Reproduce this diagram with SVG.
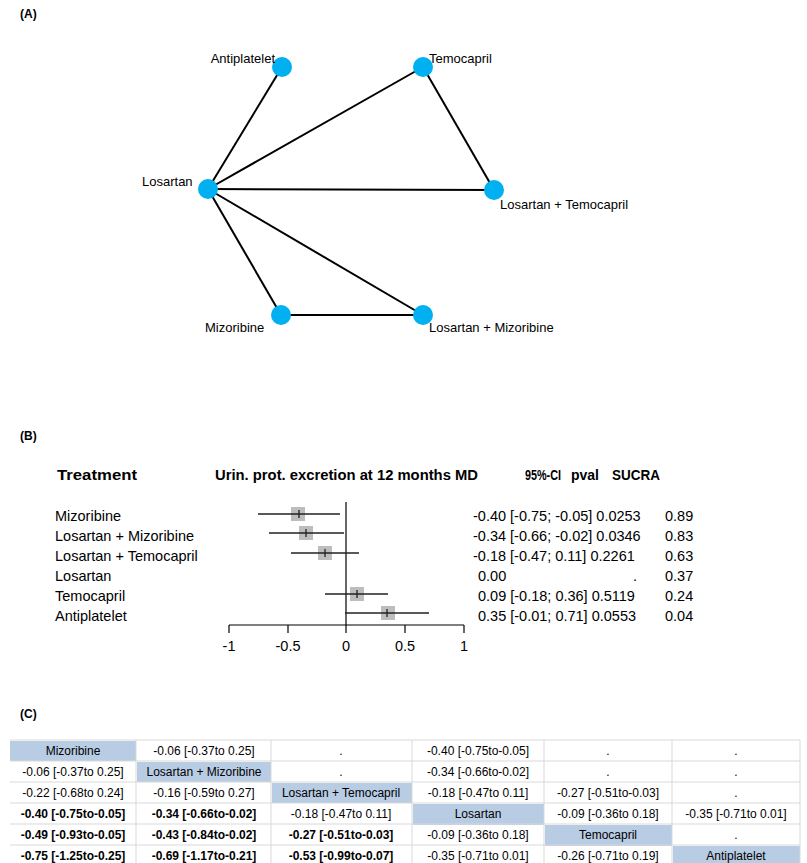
<svg xmlns="http://www.w3.org/2000/svg" width="807" height="863" viewBox="0 0 807 863">
<style>
text{font-family:"Liberation Sans",Arial,sans-serif;fill:#000}
.lb{font-size:13px}
.f{font-size:14.5px}
.h{font-size:14px;font-weight:bold}
.t{font-size:12px;text-anchor:middle}
.b{font-weight:bold}
.e{stroke:#000;stroke-width:2}
.n{fill:#00b0f0}
.ci{stroke:#222;stroke-width:1.3}
.sq{fill:#bdbdbd}
.hd{fill:#b8cce4}
.g{stroke:#d9d9d9;stroke-width:1}
</style>
<rect width="807" height="863" fill="#fff"/>
<text x="20" y="18" class="b" font-size="12">(A)</text>
<g id="connectors">
<line class="e" x1="208" y1="189" x2="282" y2="67"/>
<line class="e" x1="208" y1="189" x2="423" y2="67"/>
<line class="e" x1="208" y1="189" x2="494" y2="190"/>
<line class="e" x1="423" y1="67" x2="494" y2="190"/>
<line class="e" x1="208" y1="189" x2="281" y2="315"/>
<line class="e" x1="208" y1="189" x2="423" y2="315"/>
<line class="e" x1="281" y1="315" x2="423" y2="315"/>
</g>
<g id="n-antiplatelet"><circle class="n" cx="282" cy="67" r="10"/><text class="lb" x="275" y="63" text-anchor="end">Antiplatelet</text></g>
<g id="n-temocapril"><circle class="n" cx="423" cy="67" r="10"/><text class="lb" x="429" y="63">Temocapril</text></g>
<g id="n-losartan"><circle class="n" cx="208" cy="189" r="10"/><text class="lb" x="142" y="186">Losartan</text></g>
<g id="n-lostemo"><circle class="n" cx="494" cy="190" r="10"/><text class="lb" x="500" y="209">Losartan + Temocapril</text></g>
<g id="n-mizoribine"><circle class="n" cx="281" cy="315" r="10"/><text class="lb" x="205" y="332">Mizoribine</text></g>
<g id="n-losmiz"><circle class="n" cx="423" cy="315" r="10"/><text class="lb" x="429" y="332">Losartan + Mizoribine</text></g>

<text x="20" y="440" class="b" font-size="12">(B)</text>
<g id="forest">
<text class="h" x="57" y="480" textLength="80" lengthAdjust="spacingAndGlyphs">Treatment</text>
<text class="h" x="215" y="480" textLength="263" lengthAdjust="spacingAndGlyphs">Urin. prot. excretion at 12 months MD</text>
<text class="h" x="525" y="480" textLength="36" lengthAdjust="spacingAndGlyphs">95%-CI</text>
<text class="h" x="571" y="480" textLength="28" lengthAdjust="spacingAndGlyphs">pval</text>
<text class="h" x="612" y="480" textLength="48" lengthAdjust="spacingAndGlyphs">SUCRA</text>
<line x1="346" y1="502" x2="346" y2="625" stroke="#000" stroke-width="1.2"/>
<line x1="229" y1="625" x2="464" y2="625" stroke="#000" stroke-width="1.2"/>
<g stroke="#000" stroke-width="1.2">
<line x1="229" y1="625" x2="229" y2="633"/><line x1="288" y1="625" x2="288" y2="633"/><line x1="346" y1="625" x2="346" y2="633"/><line x1="405" y1="625" x2="405" y2="633"/><line x1="464" y1="625" x2="464" y2="633"/>
</g>
<g class="f" text-anchor="middle">
<text x="229" y="651">-1</text><text x="288" y="651">-0.5</text><text x="346" y="651">0</text><text x="405" y="651">0.5</text><text x="464" y="651">1</text>
</g>
<g class="f">
<text x="55" y="521">Mizoribine</text>
<text x="55" y="541">Losartan + Mizoribine</text>
<text x="55" y="561">Losartan + Temocapril</text>
<text x="55" y="581">Losartan</text>
<text x="55" y="601">Temocapril</text>
<text x="55" y="621">Antiplatelet</text>
</g>
<rect class="sq" x="291" y="507" width="14" height="14"/>
<line class="ci" x1="258" y1="514" x2="340" y2="514"/><line class="ci" x1="299" y1="510" x2="299" y2="518"/>
<rect class="sq" x="299" y="526" width="14" height="14"/>
<line class="ci" x1="269" y1="533" x2="344" y2="533"/><line class="ci" x1="306" y1="529" x2="306" y2="537"/>
<rect class="sq" x="318" y="546" width="14" height="14"/>
<line class="ci" x1="291" y1="553" x2="359" y2="553"/><line class="ci" x1="325" y1="549" x2="325" y2="557"/>
<rect class="sq" x="350" y="587" width="14" height="14"/>
<line class="ci" x1="325" y1="594" x2="388" y2="594"/><line class="ci" x1="357" y1="590" x2="357" y2="598"/>
<rect class="sq" x="381" y="606" width="14" height="14"/>
<line class="ci" x1="345" y1="613" x2="429" y2="613"/><line class="ci" x1="387" y1="609" x2="387" y2="617"/>
<g class="f">
<text x="473" y="521">-0.40 [-0.75; -0.05] 0.0253</text><text x="665" y="521">0.89</text>
<text x="473" y="541">-0.34 [-0.66; -0.02] 0.0346</text><text x="665" y="541">0.83</text>
<text x="473" y="561">-0.18 [-0.47;  0.11] 0.2261</text><text x="665" y="561">0.63</text>
<text x="478" y="581">0.00</text><text x="633" y="581">.</text><text x="665" y="581">0.37</text>
<text x="478" y="601">0.09 [-0.18;  0.36] 0.5119</text><text x="665" y="601">0.24</text>
<text x="478" y="621">0.35 [-0.01;  0.71] 0.0553</text><text x="665" y="621">0.04</text>
</g>
</g>

<text x="20" y="718" class="b" font-size="12">(C)</text>
<g id="league">
<rect class="hd" x="10" y="741" width="126" height="20"/>
<rect class="hd" x="137" y="762" width="134" height="20"/>
<rect class="hd" x="272" y="783" width="140" height="20"/>
<rect class="hd" x="413" y="804" width="131" height="21"/>
<rect class="hd" x="545" y="825" width="127" height="21"/>
<rect class="hd" x="673" y="846" width="127" height="17"/>
<g class="g">
<line x1="10" y1="740" x2="800" y2="740"/><line x1="10" y1="761" x2="800" y2="761"/><line x1="10" y1="782" x2="800" y2="782"/><line x1="10" y1="803" x2="800" y2="803"/><line x1="10" y1="824" x2="800" y2="824"/><line x1="10" y1="845" x2="800" y2="845"/>
<line x1="136" y1="740" x2="136" y2="863"/><line x1="271" y1="740" x2="271" y2="863"/><line x1="412" y1="740" x2="412" y2="863"/><line x1="544" y1="740" x2="544" y2="863"/><line x1="672" y1="740" x2="672" y2="863"/><line x1="800" y1="740" x2="800" y2="863"/>
</g>
<text class="t" x="73" y="755">Mizoribine</text><text class="t" x="204" y="755">-0.06 [-0.37to 0.25]</text><text class="t" x="341" y="755">.</text><text class="t" x="478" y="755">-0.40 [-0.75to-0.05]</text><text class="t" x="608" y="755">.</text><text class="t" x="736" y="755">.</text>
<text class="t" x="73" y="776">-0.06 [-0.37to 0.25]</text><text class="t" x="204" y="776">Losartan + Mizoribine</text><text class="t" x="341" y="776">.</text><text class="t" x="478" y="776">-0.34 [-0.66to-0.02]</text><text class="t" x="608" y="776">.</text><text class="t" x="736" y="776">.</text>
<text class="t" x="73" y="797">-0.22 [-0.68to 0.24]</text><text class="t" x="204" y="797">-0.16 [-0.59to 0.27]</text><text class="t" x="341" y="797">Losartan + Temocapril</text><text class="t" x="478" y="797">-0.18 [-0.47to 0.11]</text><text class="t" x="608" y="797">-0.27 [-0.51to-0.03]</text><text class="t" x="736" y="797">.</text>
<text class="t b" x="73" y="818">-0.40 [-0.75to-0.05]</text><text class="t b" x="204" y="818">-0.34 [-0.66to-0.02]</text><text class="t" x="341" y="818">-0.18 [-0.47to 0.11]</text><text class="t" x="478" y="818">Losartan</text><text class="t" x="608" y="818">-0.09 [-0.36to 0.18]</text><text class="t" x="736" y="818">-0.35 [-0.71to 0.01]</text>
<text class="t b" x="73" y="839">-0.49 [-0.93to-0.05]</text><text class="t b" x="204" y="839">-0.43 [-0.84to-0.02]</text><text class="t b" x="341" y="839">-0.27 [-0.51to-0.03]</text><text class="t" x="478" y="839">-0.09 [-0.36to 0.18]</text><text class="t" x="608" y="839">Temocapril</text><text class="t" x="736" y="839">.</text>
<text class="t b" x="73" y="860">-0.75 [-1.25to-0.25]</text><text class="t b" x="204" y="860">-0.69 [-1.17to-0.21]</text><text class="t b" x="341" y="860">-0.53 [-0.99to-0.07]</text><text class="t" x="478" y="860">-0.35 [-0.71to 0.01]</text><text class="t" x="608" y="860">-0.26 [-0.71to 0.19]</text><text class="t" x="736" y="860">Antiplatelet</text>
</g>
</svg>
